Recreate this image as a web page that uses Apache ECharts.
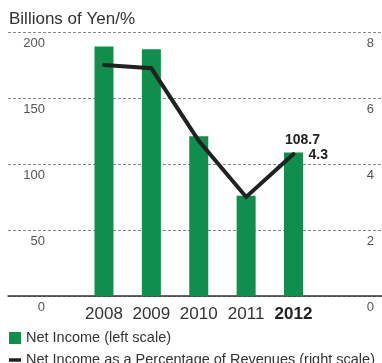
<!DOCTYPE html>
<html>
<head>
<meta charset="utf-8">
<script src="https://cdn.jsdelivr.net/npm/echarts@6/dist/echarts.min.js"></script>
<style>
  html, body { margin: 0; padding: 0; background: #fff; }
  #chart { width: 382px; height: 363px; }
</style>
</head>
<body>
<div id="chart"></div>
<script>
// Net income (billions of yen) and net income as % of revenues, FY2008–2012
const years = ['2008', '2009', '2010', '2011', '2012'];
const netIncome = [189, 187, 121, 76, 108.7];
const pctOfRevenues = [7.0, 6.9, 4.7, 3.0, 4.3];
const leftTicks = { min: 0, max: 200, interval: 50 };
const rightTicks = { min: 0, max: 8, interval: 2 };

const BAR_NAME = 'Net Income (left scale)';
const LINE_NAME = 'Net Income as a Percentage of Revenues (right scale)';

const FONT = '"Liberation Sans", Arial, Helvetica, sans-serif';
const GREEN = '#0f8f4b';
const INK = '#222';

const chart = echarts.init(document.getElementById('chart'), null, { renderer: 'canvas' });

const lastIdx = years.length - 1;

const legendBase = {
  left: 9,
  padding: 0,
  itemWidth: 12,
  itemHeight: 12,
  selectedMode: false,
  textStyle: { fontFamily: FONT, fontSize: 14.5, color: '#333', lineHeight: 16 }
};

chart.setOption({
  animation: false,
  backgroundColor: '#fff',
  textStyle: { fontFamily: FONT },
  title: {
    text: 'Billions of Yen/%',
    left: 9,
    top: 9,
    padding: 0,
    textStyle: { fontFamily: FONT, fontSize: 17, fontWeight: 'normal', color: '#333', lineHeight: 20 }
  },
  legend: [
    { ...legendBase, top: 330, data: [{ name: BAR_NAME, icon: 'rect' }] },
    { ...legendBase, top: 352, data: [{ name: LINE_NAME, icon: 'path://M0,0H12V3.5H0Z' }] }
  ],
  grid: [
    // full-width frame: gridlines, scale labels, baseline
    { left: 8, right: 0, top: 32, bottom: 67 },
    // plotting area for the yearly categories
    { left: 80.3, right: 64.8, top: 32, bottom: 67 }
  ],
  xAxis: [
    {
      gridIndex: 0, type: 'value', min: 0, max: 1,
      axisLine: { show: true, lineStyle: { color: '#333', width: 1.5 } },
      axisTick: { show: false }, axisLabel: { show: false }, splitLine: { show: false }
    },
    {
      gridIndex: 1, type: 'category', data: years,
      axisLine: { show: false }, axisTick: { show: false },
      axisLabel: {
        interval: 0,
        margin: 10,
        fontFamily: FONT, fontSize: 17, color: '#333',
        formatter: v => v === years[lastIdx] ? '{b|' + v + '}' : v,
        rich: { b: { fontFamily: FONT, fontSize: 17, fontWeight: 'bold', color: INK } }
      }
    }
  ],
  yAxis: [
    {
      gridIndex: 0, type: 'value', position: 'left', ...leftTicks,
      axisLine: { show: false }, axisTick: { show: false },
      splitLine: { show: true, lineStyle: { color: '#888', type: [3, 2], width: 1 } },
      axisLabel: {
        inside: true, margin: 37, align: 'right', verticalAlign: 'top', lineHeight: 22,
        fontFamily: FONT, fontSize: 13, color: '#555', showMaxLabel: true, showMinLabel: true
      }
    },
    {
      gridIndex: 0, type: 'value', position: 'right', ...rightTicks,
      axisLine: { show: false }, axisTick: { show: false }, splitLine: { show: false },
      axisLabel: {
        inside: true, margin: 8, align: 'right', verticalAlign: 'top', lineHeight: 22,
        fontFamily: FONT, fontSize: 13, color: '#555', showMaxLabel: true, showMinLabel: true
      }
    },
    { gridIndex: 1, type: 'value', ...leftTicks, show: false },
    { gridIndex: 1, type: 'value', ...rightTicks, show: false }
  ],
  series: [
    {
      name: BAR_NAME,
      type: 'bar',
      xAxisIndex: 1, yAxisIndex: 2,
      barWidth: 19,
      itemStyle: { color: GREEN },
      data: netIncome.map((v, i) => i === lastIdx ? {
        value: v,
        label: {
          show: true, position: 'top', distance: 5, offset: [9, 0],
          fontFamily: FONT, fontSize: 14, fontWeight: 'bold', color: INK
        }
      } : v)
    },
    {
      name: LINE_NAME,
      type: 'line',
      xAxisIndex: 1, yAxisIndex: 3,
      symbol: 'circle',
      symbolSize: 0.1,
      showSymbol: true,
      itemStyle: { color: INK },
      lineStyle: { color: INK, width: 4, cap: 'round', join: 'miter' },
      data: pctOfRevenues.map((v, i) => i === lastIdx ? {
        value: v,
        label: {
          show: true, position: 'right', distance: 15, offset: [0, 1],
          fontFamily: FONT, fontSize: 14, fontWeight: 'bold', color: INK
        }
      } : v)
    }
  ]
});
</script>
</body>
</html>
